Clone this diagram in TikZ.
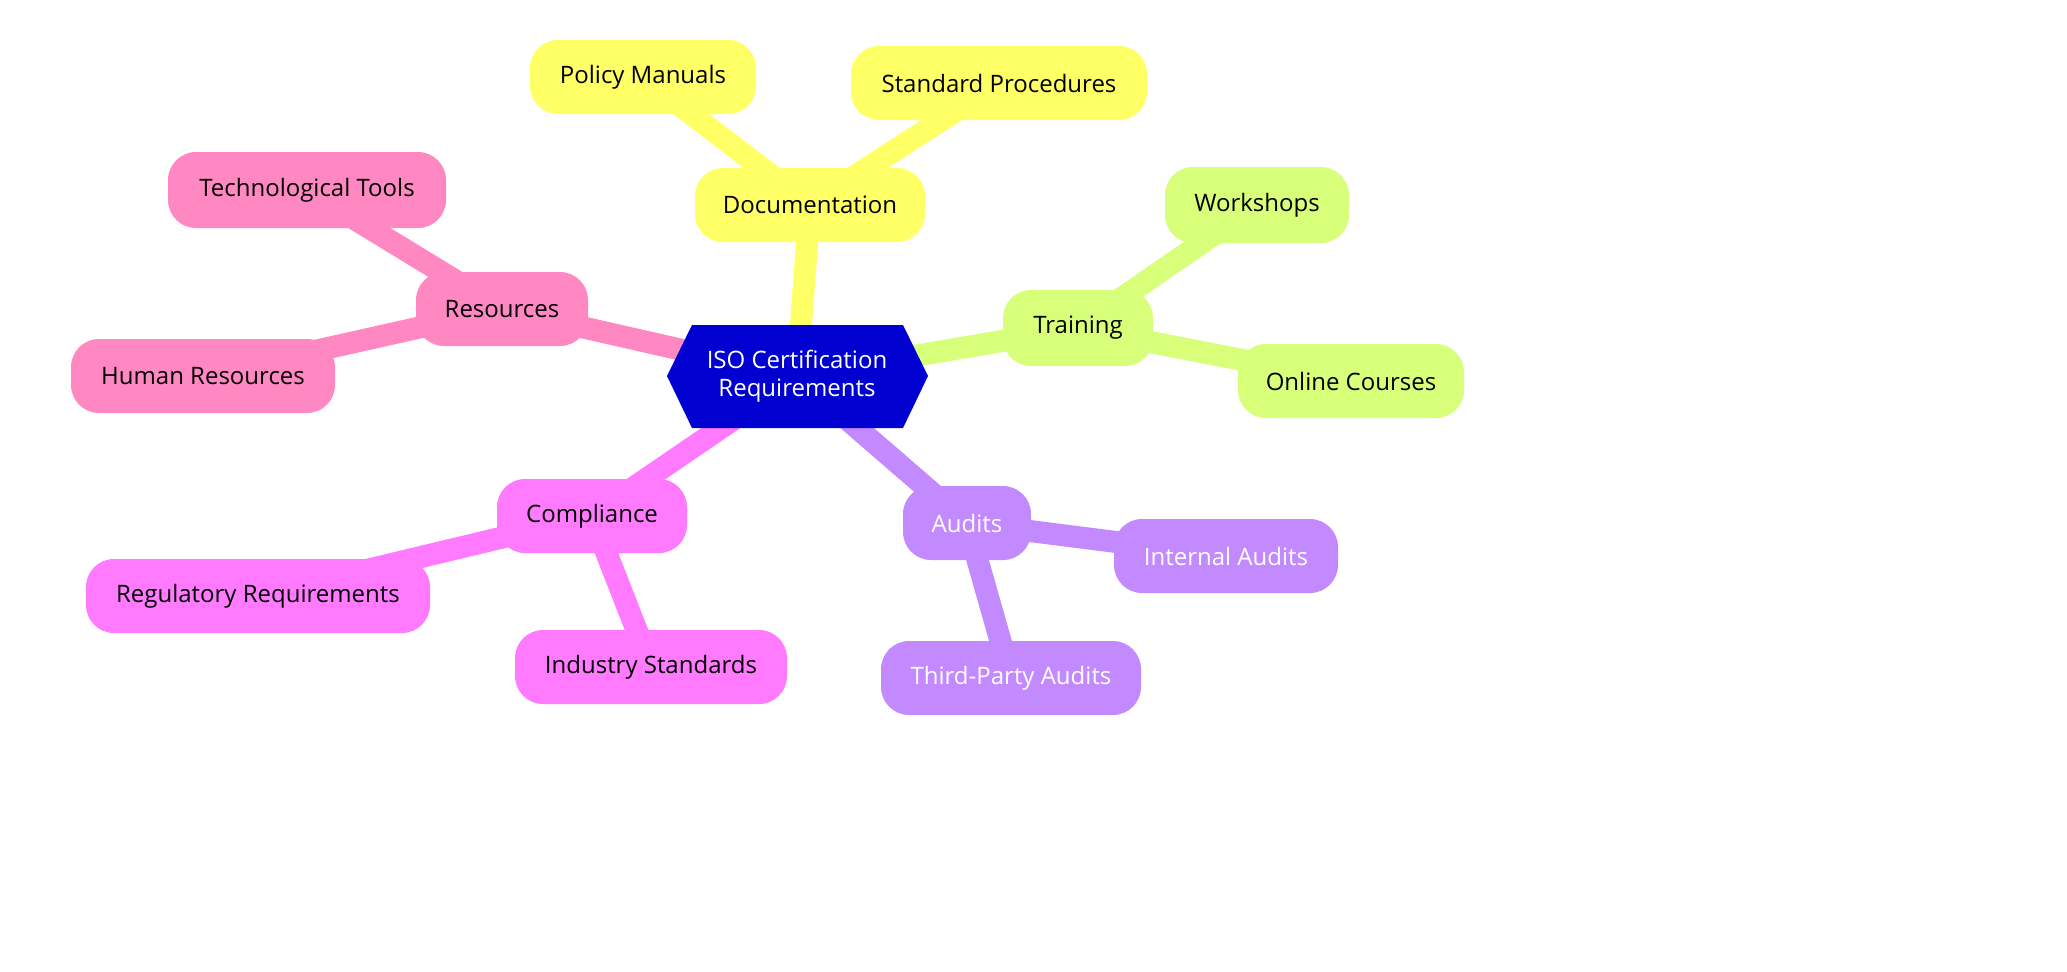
\documentclass[tikz,border=0pt]{standalone}
\usepackage{fontspec}
\setmainfont{Open Sans}
\usetikzlibrary{backgrounds}
\definecolor{cyel}{HTML}{FFFF66}
\definecolor{cpink}{HTML}{FF88C2}
\definecolor{cgreen}{HTML}{D8FF7A}
\definecolor{cmag}{HTML}{FF7AFF}
\definecolor{cpur}{HTML}{C38AFF}
\definecolor{cblue}{HTML}{0000D0}
\begin{document}
\begin{tikzpicture}[x=0.5pt,y=-0.5pt,
  box/.style={rectangle,rounded corners=14pt,font=\fontsize{12}{14}\selectfont,inner sep=0pt},
  link/.style={line width=11pt}]
\useasboundingbox (0,0) rectangle (2067,971);
\fill[cblue] (667,376) -- (692,325) -- (903,325) -- (928,376) -- (903,428) -- (692,428) -- cycle;
\node[font=\fontsize{12}{14}\selectfont,text=white,align=center,minimum width=130pt,minimum height=51pt] (c) at (797,376) {ISO Certification\\Requirements};
\node[box,fill=cyel,minimum width=115pt,minimum height=37pt] (doc) at (810,205) {Documentation};
\node[box,fill=cyel,minimum width=113pt,minimum height=37pt] (pm) at (643,77) {Policy Manuals};
\node[box,fill=cyel,minimum width=148pt,minimum height=37pt] (sp) at (999,83) {Standard Procedures};
\node[box,fill=cpink,minimum width=86pt,minimum height=37pt] (res) at (502,309) {Resources};
\node[box,fill=cpink,minimum width=139pt,minimum height=38pt] (tt) at (307,190) {Technological Tools};
\node[box,fill=cpink,minimum width=132pt,minimum height=37pt] (hr) at (203,376) {Human Resources};
\node[box,fill=cgreen,minimum width=75pt,minimum height=38pt] (tr) at (1078,328) {Training};
\node[box,fill=cgreen,minimum width=92pt,minimum height=38pt] (ws) at (1257,205) {Workshops};
\node[box,fill=cgreen,minimum width=113pt,minimum height=37pt] (oc) at (1351,381) {Online Courses};
\node[box,fill=cmag,minimum width=95pt,minimum height=37pt] (co) at (592,516) {Compliance};
\node[box,fill=cmag,minimum width=172pt,minimum height=37pt] (rr) at (258,596) {Regulatory Requirements};
\node[box,fill=cmag,minimum width=136pt,minimum height=37pt] (is) at (651,667) {Industry Standards};
\node[box,fill=cpur,text=white,minimum width=64pt,minimum height=37pt] (au) at (967,523) {Audits};
\node[box,fill=cpur,text=white,minimum width=112pt,minimum height=37pt] (ia) at (1226,556) {Internal Audits};
\node[box,fill=cpur,text=white,minimum width=130pt,minimum height=37pt] (tp) at (1011,678) {Third-Party Audits};
\begin{scope}[on background layer]
\draw[link,cyel] (c.center) -- (doc.center);
\draw[link,cyel] (doc.center) -- (pm.center);
\draw[link,cyel] (doc.center) -- (sp.center);
\draw[link,cpink] (c.center) -- (res.center);
\draw[link,cpink] (res.center) -- (tt.center);
\draw[link,cpink] (res.center) -- (hr.center);
\draw[link,cgreen] (c.center) -- (tr.center);
\draw[link,cgreen] (tr.center) -- (ws.center);
\draw[link,cgreen] (tr.center) -- (oc.center);
\draw[link,cmag] (c.center) -- (co.center);
\draw[link,cmag] (co.center) -- (rr.center);
\draw[link,cmag] (co.center) -- (is.center);
\draw[link,cpur] (c.center) -- (au.center);
\draw[link,cpur] (au.center) -- (ia.center);
\draw[link,cpur] (au.center) -- (tp.center);
\end{scope}
\end{tikzpicture}
\end{document}
